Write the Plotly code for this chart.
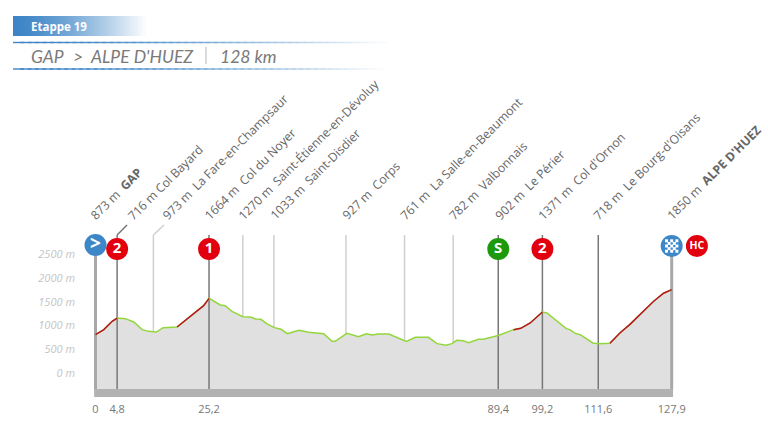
import numpy as np
import plotly.graph_objects as go

# profile
profile_km = [0, 0.2, 1.85, 3.7, 4.8, 6.65, 8.5, 10.35, 11.8, 13.5, 15, 18.1, 20.3, 22.5, 24, 25.2,
              26.6, 27.7, 28.8, 30.3, 32.7, 34.4, 35.5, 36.7, 38, 39.7, 41.2, 42.6, 44, 45.2, 47.3,
              50.65, 52.5, 53.2, 55.8, 58.4, 60.1, 61.4, 62.8, 65.1, 69, 71, 73.9, 75.8, 77.8,
              79.1, 80.2, 81.6, 82.8, 85, 86.1, 89.4, 92.8, 94.4, 96.5, 99.2, 100.2, 102.4, 104.5,
              105.3, 106.5, 107.6, 110.4, 111.6, 114.2, 116.4, 118.7, 122.3, 123.9, 126.1, 127.7, 127.9]
profile_m = [810, 821, 913, 1088, 1158, 1144, 1074, 913, 877, 863, 955, 969, 1137, 1299, 1418, 1572,
             1495, 1432, 1418, 1299, 1186, 1179, 1137, 1130, 1039, 955, 920, 828, 870, 899, 856,
             828, 667, 667, 835, 765, 828, 800, 821, 821, 667, 751, 751, 618, 583,
             618, 688, 681, 639, 709, 709, 790, 913, 940, 1053, 1285, 1264, 1088, 934,
             913, 835, 807, 632, 618, 625, 842, 1030, 1369, 1510, 1680, 1748, 1755]
climbs = [(0, 4.8), (18.1, 25.2), (92.8, 99.2), (114.2, 127.9)]
base_top = -337
base_bottom = -505

km_ticks = [0, 4.8, 25.2, 89.4, 99.2, 111.6, 127.9]
km_labels = ["0", "4,8", "25,2", "89,4", "99,2", "111,6", "127,9"]
m_ticks = [0, 500, 1000, 1500, 2000, 2500]
m_labels = ["0 m", "500 m", "1000 m", "1500 m", "2000 m", "2500 m"]

# towns / cols along the route
place_text = ["873 m\u00a0\u00a0<b>GAP</b>", "716 m\u00a0Col Bayard", "973 m\u00a0\u00a0La Fare-en-Champsaur",
              "1664 m\u00a0\u00a0Col du Noyer", "1270 m\u00a0\u00a0Saint-Étienne-en-Dévoluy",
              "1033 m\u00a0\u00a0Saint-Disdier", "927 m\u00a0\u00a0Corps", "761 m\u00a0\u00a0La Salle-en-Beaumont",
              "782 m\u00a0\u00a0Valbonnais", "902 m\u00a0\u00a0Le Périer", "1371 m\u00a0\u00a0Col d'Ornon",
              "718 m\u00a0\u00a0Le Bourg-d'Oisans", "1850 m\u00a0\u00a0<b>ALPE D'HUEZ</b>"]
label_km = [-1.9, 6.3, 14.2, 23.3, 30.8, 37.9, 54.0, 66.8, 77.7, 88.0, 97.3, 109.6, 126.1]

pin_km = [4.8, 25.2, 89.4, 99.2]
pin_text = ["2", "1", "S", "2"]
pin_color = ["#e2000f", "#e2000f", "#1c9a0c", "#e2000f"]
pin_m = 2610
line_top = 2905
dark_km = [4.8, 25.2, 89.4, 99.2, 111.6]
light_km = [12.85, 32.7, 39.6, 55.6, 68.6, 79.4]

W, H = 768, 432
ML, MB = 80, 35
X0, KM_PX = 95.5, 4.505
M_PX = 397 / 8358
FONT = "Open Sans"


def elevation(k):
    return float(np.interp(k, profile_km, profile_m))


fig = go.Figure()

# grey base band and the area under the profile
fig.add_trace(go.Scatter(x=[-0.3, 128.2], y=[base_bottom, base_bottom], mode="lines", line=dict(width=0)))
fig.add_trace(go.Scatter(x=[-0.3, 128.2], y=[base_top, base_top], mode="lines", line=dict(width=0),
                         fill="tonexty", fillcolor="#b2b2b2"))
fig.add_trace(go.Scatter(x=profile_km, y=profile_m, mode="lines", line=dict(width=0),
                         fill="tonexty", fillcolor="#e0e0e0"))

# vertical lines
for k in light_km:
    fig.add_trace(go.Scatter(x=[k, k], y=[elevation(k), line_top], mode="lines",
                             line=dict(color="#cfcfcf", width=1.5)))
for k in dark_km:
    fig.add_trace(go.Scatter(x=[k, k], y=[base_top, line_top], mode="lines",
                             line=dict(color="#777777", width=1.5)))
for k in [0, 127.9]:
    fig.add_trace(go.Scatter(x=[k, k], y=[base_top, 2650], mode="lines",
                             line=dict(color="#a8a8a8", width=3)))

# kinks from the two lines up to their labels
fig.add_trace(go.Scatter(x=[4.8, 7], y=[line_top, 3115], mode="lines", line=dict(color="#777777", width=1.5)))
fig.add_trace(go.Scatter(x=[12.85, 15.2], y=[line_top, 3115], mode="lines", line=dict(color="#cfcfcf", width=1.5)))

# profile line, green with the climbs in red on top
fig.add_trace(go.Scatter(x=profile_km, y=profile_m, mode="lines", line=dict(color="#93d63c", width=1.5)))
km_arr = np.array(profile_km)
m_arr = np.array(profile_m)
for start, end in climbs:
    mask = (km_arr >= start) & (km_arr <= end)
    fig.add_trace(go.Scatter(x=km_arr[mask], y=m_arr[mask], mode="lines", line=dict(color="#b8141f", width=1.5)))

# pins
fig.add_trace(go.Scatter(x=pin_km, y=[pin_m] * len(pin_km), mode="markers+text", text=pin_text,
                         textposition="middle center", marker=dict(size=22, color=pin_color),
                         textfont=dict(family=FONT, size=15, color="white", weight="bold")))
fig.add_trace(go.Scatter(x=[0], y=[2695], mode="markers+text", text=["<b>&gt;</b>"], textposition="middle center",
                         marker=dict(size=22, color="#3d87c8"), textfont=dict(family=FONT, size=19, color="white")))
fig.add_trace(go.Scatter(x=[127.9], y=[2674], mode="markers", marker=dict(size=22, color="#3d87c8")))
fig.add_trace(go.Scatter(x=[133.5], y=[2674], mode="markers+text", text=["HC"], textposition="middle center",
                         marker=dict(size=22, color="#e2000f"),
                         textfont=dict(family=FONT, size=10.5, color="white", weight="bold")))

# chequered flag on the finish pin
check_x, check_y = [], []
for i in range(-2, 3):
    for j in range(-2, 3):
        if (i + j) % 2 == 0:
            check_x.append(127.9 + i * 2.6 / KM_PX)
            check_y.append(2674 + j * 2.6 / M_PX)
fig.add_trace(go.Scatter(x=check_x, y=check_y, mode="markers",
                         marker=dict(symbol="square", size=3, color="white", line_width=0)))

# rotated place labels
for k, t in zip(label_km, place_text):
    fig.add_annotation(x=k, y=3150, text=t, textangle=-45, xanchor="left", yanchor="bottom", showarrow=False,
                       font=dict(family=FONT, size=12.2, color="#666666"), borderpad=0, borderwidth=0)


# header, placed in page pixels (paper coordinates run over the plot area)
def px(x):
    return (x - ML) / (W - ML)


def py(y):
    return (H - MB - y) / (H - MB)


shapes = []
for i in range(50):
    f = i / 50
    # "Etappe" bar fading out to white
    r, g, b = [int(c + (255 - c) * f ** 1.4) for c in (61, 133, 198)]
    shapes.append(dict(type="rect", xref="paper", yref="paper", layer="below", line_width=0,
                       x0=px(13 + 132 * f), x1=px(13 + 132 * (f + 0.03)), y0=py(36), y1=py(16),
                       fillcolor=f"rgb({r},{g},{b})"))
for i in range(50):
    f = i / 50
    r, g, b = [int(c + (255 - c) * f ** 1.6) for c in (61, 133, 198)]
    for y, end in [(42.5, 385), (69, 380)]:
        shapes.append(dict(type="rect", xref="paper", yref="paper", layer="below", line_width=0,
                           x0=px(13 + (end - 13) * f), x1=px(13 + (end - 13) * (f + 0.03)),
                           y0=py(y + 0.7), y1=py(y - 0.7), fillcolor=f"rgb({r},{g},{b})"))
shapes.append(dict(type="line", xref="paper", yref="paper", x0=px(206), x1=px(206), y0=py(47), y1=py(64),
                   line=dict(color="#b5b5b5", width=1)))

for x, t in [(29, "GAP"), (71, "&gt;"), (88, "ALPE D'HUEZ"), (218, "128 km")]:
    fig.add_annotation(xref="paper", yref="paper", x=px(x), y=py(56.5), text=f"<i>{t}</i>", showarrow=False,
                       xanchor="left", yanchor="middle", font=dict(family="Lato", size=17.5, color="#7a7a7a"))
fig.add_annotation(xref="paper", yref="paper", x=px(29.5), y=py(26), text="<b>Etappe 19</b>", showarrow=False,
                   xanchor="left", yanchor="middle", font=dict(family=FONT, size=11.5, color="white"))

fig.update_layout(
    width=W, height=H, margin=dict(l=ML, r=0, t=0, b=MB), showlegend=False, shapes=shapes,
    paper_bgcolor="white", plot_bgcolor="white",
    xaxis=dict(range=[(ML - X0) / KM_PX, (W - X0) / KM_PX], tickvals=km_ticks, ticktext=km_labels, showgrid=False,
               zeroline=False, showline=False, ticks="", ticklabelstandoff=4,
               tickfont=dict(family=FONT, size=11, color="#777777")),
    yaxis=dict(range=[base_bottom, 7853], tickvals=m_ticks, ticktext=m_labels, showgrid=False,
               zeroline=False, showline=False, ticks="", ticklabelstandoff=4,
               tickfont=dict(family=FONT, size=11, color="#c4c4c4", style="italic")),
)

fig.write_html("out.html", config=dict(displayModeBar=False), post_script="document.body.style.margin='0';")
